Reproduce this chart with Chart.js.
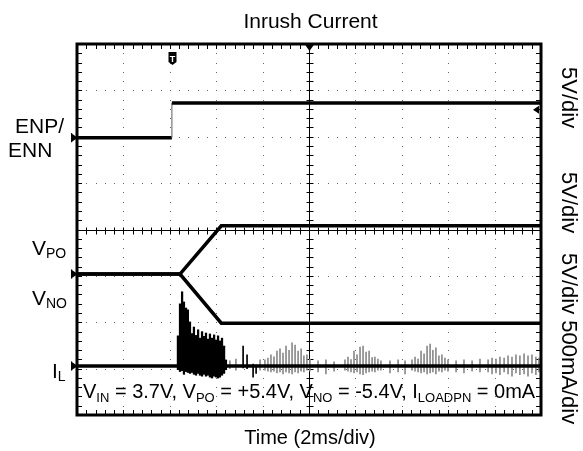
<!DOCTYPE html>
<html>
<head>
<meta charset="utf-8">
<script src="https://cdn.jsdelivr.net/npm/chart.js@4/dist/chart.umd.min.js"></script>
<style>
  html, body { margin: 0; padding: 0; background: #ffffff; }
  canvas { display: block; }
</style>
</head>
<body>
<canvas id="scope" width="583" height="451"></canvas>
<script>
// ---------------- data read from the scope capture ----------------
// time axis: 10 divisions x 2 ms/div
const timeRangeMs = [0, 20];

// CH1  ENP/ENN (5 V/div)
const enTimeMs  = [0, 4.09, 4.09, 20];
const enVolts   = [0, 0, 3.75, 3.75];

// CH2  V_PO (5 V/div)
const vpoTimeMs = [0, 4.44, 6.22, 20];
const vpoVolts  = [0, 0, 5.2, 5.2];

// CH3  V_NO (5 V/div)
const vnoTimeMs = [0, 4.44, 6.22, 20];
const vnoVolts  = [0, 0, -5.3, -5.3];

// CH4  I_L (500 mA/div) – quiet baseline
const ilTimeMs  = [0, 20];
const ilMa      = [0, 0];

// I_L inrush burst (peak / trough of each spike, mA)
const burstTimeMs = [4.35, 4.44, 4.53, 4.61, 4.70, 4.78, 4.87, 4.96, 5.04, 5.13, 5.22, 5.30, 5.39,
                     5.47, 5.56, 5.65, 5.73, 5.82, 5.91, 5.99, 6.08, 6.16, 6.25, 6.34, 6.42];
const burstHighMa = [325, 670, 800, 690, 625, 605, 475, 350, 420, 330, 390, 300, 370,
                     320, 355, 290, 345, 300, 335, 280, 325, 270, 300, 215, 65];
const burstLowMa  = [-40, -60, -50, -90, -60, -70, -80, -70, -90, -100, -80, -100, -110,
                     -90, -110, -100, -120, -130, -110, -120, -130, -120, -100, -80, -40];

// isolated black spikes after the burst
const spikeTimeMs = [7.16, 7.33, 7.59, 7.72];
const spikeHighMa = [215, 120, 20, 10];
const spikeLowMa  = [-20, -30, -120, -80];

// grey switching ripple on I_L
const rippleTimeMs = [6.59, 6.85, 7.89,
  8.10, 8.23, 8.36, 8.49, 8.62, 8.75, 8.88, 9.01, 9.14, 9.27, 9.40, 9.53, 9.66, 9.78, 9.91, 10.04,
  10.39, 10.73, 11.08,
  11.55, 11.68, 11.81, 11.94, 12.07, 12.20, 12.33, 12.46, 12.59, 12.72, 12.84, 12.97, 13.10,
  13.49, 13.84, 14.14,
  14.44, 14.57, 14.70, 14.83, 14.96, 15.09, 15.22, 15.34, 15.47, 15.60, 15.73, 15.86, 15.99,
  16.34, 16.68, 17.03, 17.37,
  17.72, 17.89, 18.06, 18.23, 18.41, 18.58, 18.75, 18.92, 19.09, 19.27, 19.44, 19.61, 19.78, 19.91];
const rippleHighMa = [55, 75, 65,
  65, 85, 120, 100, 160, 185, 140, 215, 170, 250, 225, 160, 185, 110, 120, 75,
  55, 65, 45,
  65, 95, 70, 160, 120, 205, 215, 150, 160, 90, 95, 75, 55,
  55, 65, 55,
  65, 95, 75, 160, 130, 215, 235, 170, 195, 110, 120, 85, 65,
  55, 65, 55, 75,
  65, 85, 75, 95, 85, 110, 95, 120, 110, 130, 110, 120, 95, 85];
const rippleLowMa = [-30, -45, -45,
  -45, -55, -65, -55, -75, -65, -85, -65, -75, -85, -65, -75, -55, -65, -45, -55,
  -65, -85, -55,
  -45, -55, -65, -75, -65, -85, -95, -75, -65, -55, -65, -45, -45,
  -75, -65, -85,
  -45, -55, -65, -75, -65, -85, -75, -65, -85, -55, -65, -45, -55,
  -65, -75, -55, -65,
  -65, -85, -75, -95, -65, -85, -110, -75, -95, -85, -110, -75, -95, -65];

// channel scale (units per division) and ground offsets (division from bottom)
const channels = {
  en:  { perDiv: 5,   offsetDiv: 5.98 },
  vp:  { perDiv: 5,   offsetDiv: 3.04 },
  il:  { perDiv: 500, offsetDiv: 1.057 }
};
const triggerTimeMs = 4.09;
const triggerLevelV = 3.0;   // CH1 trigger level

// ---------------- helpers ----------------
const FONT = "'Liberation Sans', Arial, Helvetica, sans-serif";
const toDiv = (v, ch) => v / ch.perDiv + ch.offsetDiv;
const linePts = (ts, vs, ch) => ts.map((t, i) => ({ x: t, y: toDiv(vs[i], ch) }));
const barPts = (ts, lo, hi, ch) => ts.map((t, i) => ({ x: t, y: [toDiv(lo[i], ch), toDiv(hi[i], ch)] }));

function drawRich(ctx, parts, x, y, size, subSize, subDrop) {
  let cx = x;
  parts.forEach(([t, sub]) => {
    ctx.font = (sub ? subSize : size) + 'px ' + FONT;
    ctx.fillText(t, cx, sub ? y + subDrop : y);
    cx += ctx.measureText(t).width;
  });
}

// ---------------- scope look plugin ----------------
const scopePlugin = {
  id: 'scopeLook',
  beforeDatasetsDraw(chart) {
    const { ctx, chartArea: a, scales: { x, y } } = chart;
    ctx.save();
    // dotted graticule
    ctx.fillStyle = '#666';
    for (let d = 1; d < 10; d++) {
      if (d === 5) continue;
      const px = Math.round(x.getPixelForValue(d * 2));
      for (let s = 0; s <= 40; s++) {
        const py = Math.round(y.getPixelForValue(s * 0.2));
        ctx.fillRect(px, py, 1, 1);
      }
    }
    for (let d = 1; d < 8; d++) {
      if (d === 4) continue;
      const py = Math.round(y.getPixelForValue(d));
      for (let s = 0; s <= 50; s++) {
        const px = Math.round(x.getPixelForValue(s * 0.4));
        ctx.fillRect(px, py, 1, 1);
      }
    }
    // centre cross with minor ticks
    ctx.strokeStyle = '#000';
    ctx.lineWidth = 1;
    const cxp = Math.round(x.getPixelForValue(10)) + 0.5;
    const cyp = Math.round(y.getPixelForValue(4)) + 0.5;
    ctx.beginPath();
    ctx.moveTo(cxp, a.top); ctx.lineTo(cxp, a.bottom);
    ctx.moveTo(a.left, cyp); ctx.lineTo(a.right, cyp);
    for (let s = 0; s <= 40; s++) {
      const py = Math.round(y.getPixelForValue(s * 0.2)) + 0.5;
      ctx.moveTo(cxp - 3, py); ctx.lineTo(cxp + 4, py);
      ctx.moveTo(a.left, py); ctx.lineTo(a.left + 5, py);
      ctx.moveTo(a.right - 5, py); ctx.lineTo(a.right, py);
    }
    for (let s = 0; s <= 50; s++) {
      const px = Math.round(x.getPixelForValue(s * 0.4)) + 0.5;
      ctx.moveTo(px, cyp - 3); ctx.lineTo(px, cyp + 4);
      ctx.moveTo(px, a.top); ctx.lineTo(px, a.top + 5);
      ctx.moveTo(px, a.bottom - 5); ctx.lineTo(px, a.bottom);
    }
    ctx.stroke();
    ctx.restore();
  },
  afterDatasetsDraw(chart) {
    const { ctx, chartArea: a, scales: { x, y } } = chart;
    ctx.save();
    // frame
    ctx.strokeStyle = '#000';
    ctx.lineWidth = 3;
    ctx.strokeRect(a.left, a.top, a.right - a.left, a.bottom - a.top);

    ctx.fillStyle = '#000';
    // ground markers on the left
    [channels.en, channels.vp, channels.il].forEach(ch => {
      const py = y.getPixelForValue(ch.offsetDiv);
      ctx.beginPath();
      ctx.moveTo(a.left - 6, py - 4.5);
      ctx.lineTo(a.left + 1, py);
      ctx.lineTo(a.left - 6, py + 4.5);
      ctx.closePath();
      ctx.fill();
      ctx.fillRect(a.left - 6, py - 4.5, 1.2, 9);
    });
    // trigger level marker (right)
    const tl = y.getPixelForValue(toDiv(triggerLevelV, channels.en));
    ctx.beginPath();
    ctx.moveTo(a.right - 8, tl);
    ctx.lineTo(a.right - 2, tl - 4);
    ctx.lineTo(a.right - 2, tl + 4);
    ctx.closePath();
    ctx.fill();
    // horizontal position marker (top centre)
    const cx = x.getPixelForValue(10) + 0.5;
    ctx.beginPath();
    ctx.moveTo(cx - 5, a.top);
    ctx.lineTo(cx + 5, a.top);
    ctx.lineTo(cx, a.top + 7);
    ctx.closePath();
    ctx.fill();
    // trigger time badge
    const tx = Math.round(x.getPixelForValue(triggerTimeMs)) + 0.5;
    const ty = a.top + 8;
    ctx.beginPath();
    ctx.moveTo(tx - 4, ty);
    ctx.lineTo(tx + 4, ty);
    ctx.lineTo(tx + 4, ty + 10);
    ctx.lineTo(tx, ty + 13);
    ctx.lineTo(tx - 4, ty + 10);
    ctx.closePath();
    ctx.fill();
    ctx.fillStyle = '#fff';
    ctx.font = 'bold 9px ' + FONT;
    ctx.textAlign = 'center';
    ctx.textBaseline = 'alphabetic';
    ctx.fillText('T', tx, ty + 9.5);
    ctx.restore();
  },
  afterDraw(chart) {
    const { ctx } = chart;
    ctx.save();
    ctx.fillStyle = '#000';
    ctx.textBaseline = 'alphabetic';
    // title & x title
    ctx.textAlign = 'center';
    ctx.font = '21px ' + FONT;
    ctx.fillText('Inrush Current', 310.5, 28);
    ctx.font = '20px ' + FONT;
    ctx.fillText('Time (2ms/div)', 310, 444);
    // left channel labels
    ctx.textAlign = 'left';
    ctx.font = '21px ' + FONT;
    ctx.fillText('ENP/', 15, 133);
    ctx.fillText('ENN', 8, 157);
    drawRich(ctx, [['V', 0], ['PO', 1]], 32, 255, 21, 14, 3);
    drawRich(ctx, [['V', 0], ['NO', 1]], 32, 305, 21, 14, 3);
    drawRich(ctx, [['I', 0], ['L', 1]], 52, 378, 21, 14, 3);
    // condition annotation
    drawRich(ctx, [['V', 0], ['IN', 1], [' = 3.7V, ', 0], ['V', 0], ['PO', 1], [' = +5.4V, ', 0],
                   ['V', 0], ['NO', 1], [' = -5.4V, ', 0], ['I', 0], ['LOADPN', 1], [' = 0mA', 0]],
             83, 398, 20, 13, 3.5);
    // right vertical scale labels
    ctx.font = '22px ' + FONT;
    [['5V/div', 67], ['5V/div', 172], ['5V/div 500mA/div', 253]].forEach(([t, sy]) => {
      ctx.save();
      ctx.translate(562, sy);
      ctx.rotate(Math.PI / 2);
      ctx.textAlign = 'left';
      ctx.fillText(t, 0, 0);
      ctx.restore();
    });
    ctx.restore();
  }
};

// ---------------- chart ----------------
new Chart(document.getElementById('scope'), {
  type: 'line',
  data: {
    datasets: [
      { label: 'ENP/ENN', data: linePts(enTimeMs, enVolts, channels.en),
        borderColor: '#000', borderWidth: 3.5, pointRadius: 0, order: 1,
        segment: {
          borderWidth: c => (c.p0.parsed.x === c.p1.parsed.x ? 1.2 : undefined),
          borderColor: c => (c.p0.parsed.x === c.p1.parsed.x ? '#777' : undefined)
        } },
      { label: 'V_PO', data: linePts(vpoTimeMs, vpoVolts, channels.vp),
        borderColor: '#000', borderWidth: 3.5, pointRadius: 0, order: 1 },
      { label: 'V_NO', data: linePts(vnoTimeMs, vnoVolts, channels.vp),
        borderColor: '#000', borderWidth: 3.5, pointRadius: 0, order: 1 },
      { label: 'I_L', data: linePts(ilTimeMs, ilMa, channels.il),
        borderColor: '#000', borderWidth: 3.5, pointRadius: 0, order: 2 },
      { type: 'bar', label: 'I_L burst', data: barPts(burstTimeMs, burstLowMa, burstHighMa, channels.il),
        backgroundColor: '#000', barThickness: 1.6, grouped: false, borderWidth: 0, order: 3 },
      { type: 'bar', label: 'I_L spikes', data: barPts(spikeTimeMs, spikeLowMa, spikeHighMa, channels.il),
        backgroundColor: '#000', barThickness: 1, grouped: false, borderWidth: 0, order: 3 },
      { type: 'bar', label: 'I_L ripple', data: barPts(rippleTimeMs, rippleLowMa, rippleHighMa, channels.il),
        backgroundColor: '#8a8a8a', barThickness: 1, grouped: false, borderWidth: 0, order: 4 }
    ]
  },
  options: {
    responsive: false,
    animation: false,
    devicePixelRatio: 1,
    layout: { padding: { left: 77, top: 44, right: 42, bottom: 36 } },
    plugins: { legend: { display: false }, tooltip: { enabled: false }, title: { display: false } },
    scales: {
      x: { type: 'linear', min: timeRangeMs[0], max: timeRangeMs[1], offset: false, display: false },
      y: { type: 'linear', min: 0, max: 8, display: false }
    }
  },
  plugins: [scopePlugin]
});
</script>
</body>
</html>
